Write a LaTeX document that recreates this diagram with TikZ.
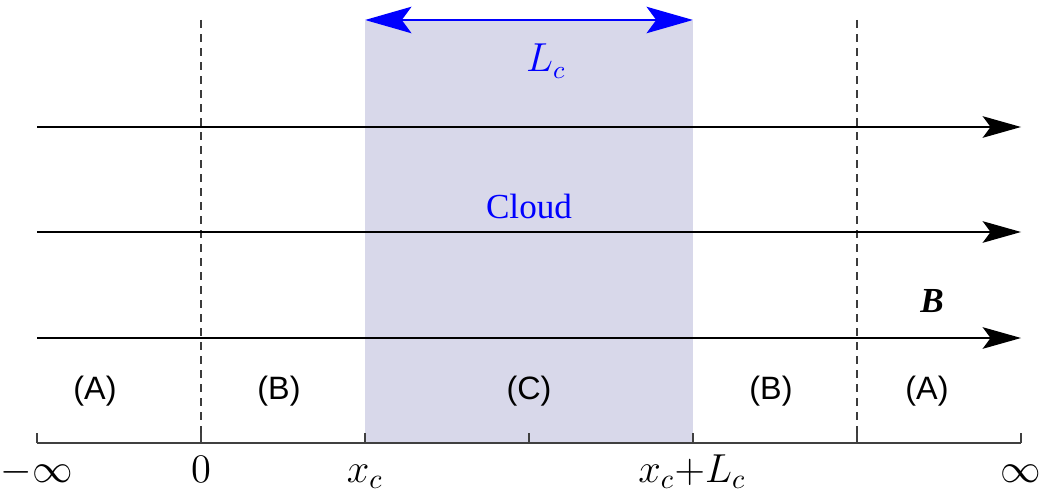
\documentclass[tikz,border=0pt]{standalone}
\usepackage{fontspec}
\setmainfont{Liberation Serif}
\setsansfont{Liberation Sans}
\usetikzlibrary{arrows.meta}

\definecolor{cloudfill}{RGB}{216,216,234}
\definecolor{dashgray}{RGB}{60,60,60}

\begin{document}
\begin{tikzpicture}[
        x=0.0125cm, y=-0.0125cm,
        fieldarr/.style={-{Stealth[length=0.48cm, width=0.27cm, inset=0.1cm]}, line width=0.5pt, black},
        widtharr/.style={{Stealth[length=0.58cm, width=0.33cm, inset=0.12cm]}-{Stealth[length=0.58cm, width=0.33cm, inset=0.12cm]}, line width=0.75pt, blue},
        boundary/.style={dashed, dash pattern=on 0.1cm off 0.075cm, line width=0.55pt, dashgray},
        axisline/.style={line width=0.55pt, black!75},
        region/.style={anchor=base, font=\sffamily\fontsize{11.5}{13}\selectfont},
        ticklabel/.style={anchor=base, font=\fontsize{14.2}{16}\selectfont},
    ]
        \useasboundingbox (0,0) rectangle (1040,494);

        % Cloud
        \fill[cloudfill] (365,21) rectangle (693,443);

        % Dashed boundaries
        \draw[boundary] (201,20) -- (201,443);
        \draw[boundary] (857,20) -- (857,443);

        % Field lines
        \foreach \y/\n in {127/1, 232/2, 338/3} {
            \coordinate (in\n) at (37,\y);
            \coordinate (out\n) at (1021,\y);
            \draw[fieldarr] (in\n) -- (out\n);
        }

        % Cloud width
        \coordinate (cleft) at (365,20);
        \coordinate (cright) at (693,20);
        \draw[widtharr] (cleft) -- (cright);
        \node[anchor=base, blue, font=\fontsize{13.5}{16}\selectfont] (lc) at (546,72) {$L_c$};
        \node[anchor=base, blue, font=\fontsize{12.5}{14}\selectfont] (cloud) at (529,218) {Cloud};
        \node[anchor=base, font=\fontsize{12.5}{14}\selectfont\bfseries\itshape] (bfield) at (932,312) {B};

        % Regions
        \node[region] (ra1) at (95,399) {(A)};
        \node[region] (rb1) at (279,399) {(B)};
        \node[region] (rc) at (529,399) {(C)};
        \node[region] (rb2) at (771,399) {(B)};
        \node[region] (ra2) at (927,399) {(A)};

        % Axis
        \draw[axisline] (37,443) -- (1021,443);
        \foreach \x in {37,201,...,1021}
            \draw[axisline] (\x,443) -- (\x,433);

        % Labels
        \node[ticklabel] (minf) at (37,482) {$-\infty$};
        \node[ticklabel] (zero) at (201,482) {$0$};
        \node[ticklabel] (xc) at (365,482) {$x_c$};
        \node[ticklabel] (xcl) at (692,482) {$x_c{+}L_c$};
        \node[ticklabel] (pinf) at (1021,482) {$\infty$};
\end{tikzpicture}
\end{document}
